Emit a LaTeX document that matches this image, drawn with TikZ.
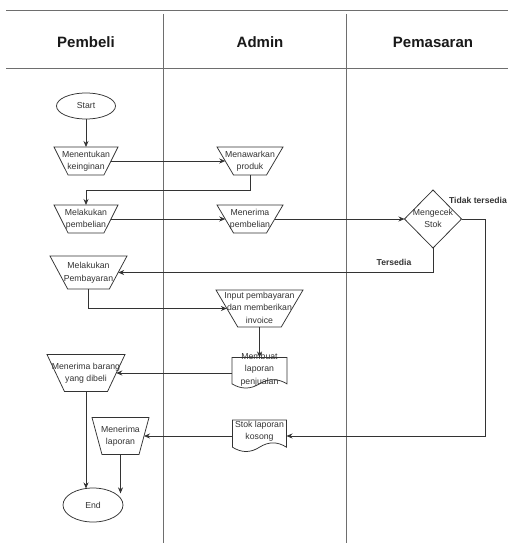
\documentclass[tikz,border=0pt]{standalone}
\usepackage{fontspec}
\setmainfont{Liberation Sans}
\usetikzlibrary{shapes.geometric,arrows.meta,calc}

\definecolor{ink}{HTML}{333333}
\definecolor{rulegray}{HTML}{6E6E6E}

% centred multi-line label that does not enlarge its shape
\newcommand\boxtext[2][0pt]{\smash{\makebox[0pt]{\raisebox{\dimexpr#1-2.2pt\relax}{\begin{tabular}{@{}c@{}}#2\end{tabular}}}}}

% document symbol: flat top, wavy bottom, drawn round a rectangle node
\newcommand\docoutline[1]{%
  \draw[wire] let \p1=(#1.north west), \p2=(#1.south east),
      \n1={\x2-\x1}, \n2={\y2-\y1} in
    (\x1,\y1) -- (\x2,\y1) -- (\x2,{\y1+0.85*\n2})
    .. controls ({\x1+0.8333*\n1},{\y1+0.67*\n2}) and ({\x1+0.6667*\n1},{\y1+0.67*\n2}) .. ({\x1+0.5*\n1},{\y1+0.85*\n2})
    .. controls ({\x1+0.3333*\n1},{\y1+1.03*\n2}) and ({\x1+0.1667*\n1},{\y1+1.03*\n2}) .. (\x1,{\y1+0.85*\n2})
    -- cycle;}

\tikzset{
  wire/.style={draw=ink, line width=0.75pt},
  flow/.style={wire, -{Stealth[length=6pt,width=5pt]}},
  lane/.style={draw=rulegray, line width=0.8pt},
  lanehead/.style={font=\fontsize{15}{18}\selectfont\bfseries, text=black!90, inner sep=0pt},
  base/.style={draw=ink, line width=0.75pt, inner sep=1pt, outer sep=0pt, text=ink,
    font=\fontsize{8.7}{12.5}\selectfont},
  terminal/.style n args={2}{base, ellipse, minimum width=#1, minimum height=#2},
  trap/.style n args={3}{base, trapezium, shape border rotate=180, trapezium stretches=true,
    minimum width=#1, minimum height=#2, trapezium left angle=#3, trapezium right angle=#3},
  decision/.style={base, diamond, aspect=1, minimum width=57, minimum height=58},
  docnode/.style n args={2}{base, draw=none, rectangle, minimum width=#1, minimum height=#2},
  branchnote/.style={font=\fontsize{8.6}{10}\selectfont\bfseries, text=ink, inner sep=0pt}
}

\begin{document}
\begin{tikzpicture}[x=1pt,y=-1pt]
\useasboundingbox (0,0) rectangle (508,545);
\fill[white] (0,0) rectangle (508,545);

% swimlanes
\draw[lane] (6,10) -- (508,10);
\draw[lane] (6,68) -- (508,68);
\draw[lane] (163,14) -- (163,543);
\draw[lane] (346,14) -- (346,543);
\node[lanehead] (hpembeli) at (86,42) {Pembeli};
\node[lanehead] (hadmin) at (260,42) {Admin};
\node[lanehead] (hpemasaran) at (433,42) {Pemasaran};

% steps
\node[terminal={59}{26}] (start) at (86,106) {Start};
\node[trap={64}{28}{68.6}] (menentukan) at (86,161) {\boxtext{Menentukan\\keinginan}};
\node[trap={66}{28}{63.4}] (menawarkan) at (250,161) {\boxtext{Menawarkan\\produk}};
\node[trap={64}{28}{68.6}] (melakukan) at (86,219) {\boxtext{Melakukan\\pembelian}};
\node[trap={66}{28}{63.4}] (menerima) at (250,219) {\boxtext{Menerima\\pembelian}};
\node[decision] (cek) at (433,219) {\boxtext{Mengecek\\Stok}};
\node[trap={77}{33}{67}] (pembayaran) at (88.5,272.5) {\boxtext{Melakukan\\Pembayaran}};
\node[trap={87}{37}{63.4}] (input) at (259.5,308.5) {\boxtext{Input pembayaran\\dan memberikan\\invoice}};
\node[docnode={55}{31}] (membuat) at (259.5,373) {\boxtext[3.5pt]{Membuat\\laporan\\penjualan}};
\node[trap={78}{37}{67.9}] (barang) at (86,373) {\boxtext{Menerima barang\\yang dibeli}};
\node[docnode={54}{32}] (stok) at (259.5,436) {\boxtext[5pt]{Stok laporan\\kosong}};
\node[trap={57}{37}{74.9}] (laporan) at (120.5,436) {\boxtext{Menerima\\laporan}};
\node[terminal={60}{34}] (finish) at (93,505) {End};
\docoutline{membuat}
\docoutline{stok}

% branch labels
\node[branchnote, anchor=east] (tidak) at (507,200) {Tidak tersedia};
\node[branchnote] (tersedia) at (394,262) {Tersedia};

% connectors
\coordinate (jog) at (86,190);
\coordinate (tdk) at (485,436);
\draw[flow] (start) -- (menentukan);
\draw[flow] (menentukan) -- (menawarkan);
\draw[flow] (menawarkan.south) |- (jog) -- (melakukan.north);
\draw[flow] (melakukan) -- (menerima);
\draw[flow] (menerima) -- (cek);
\draw[flow] (cek.east) -| (tdk) -- (stok.east);
\draw[flow] (cek.south) |- (pembayaran.east);
\draw[flow] (pembayaran.south) |- (input.west);
\draw[flow] (input) -- (membuat);
\draw[flow] (membuat) -- (barang);
\draw[flow] (stok) -- (laporan);
\draw[flow] (barang.south) -- (barang.south |- finish.113);
\draw[flow] (laporan.south) -- (laporan.south |- finish.28);
\end{tikzpicture}
\end{document}
